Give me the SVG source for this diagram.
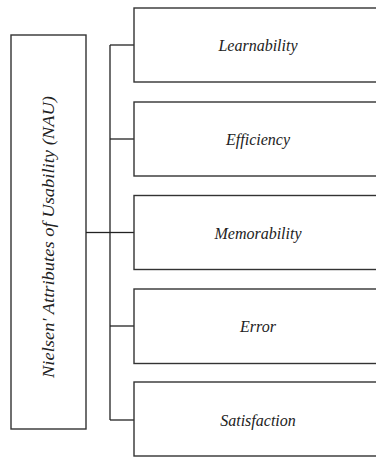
<svg xmlns="http://www.w3.org/2000/svg" width="376" height="457" viewBox="0 0 376 457">
<style>
.box{fill:#fff;stroke:#333;stroke-width:1.4}
.lbl{font-family:"Liberation Serif",serif;font-style:italic;font-size:16px;fill:#222;text-anchor:middle}
.con{fill:none;stroke:#222;stroke-width:1.3}
</style>
<rect width="376" height="457" fill="#fff"/>
<g id="root">
<rect class="box" x="11" y="35" width="75" height="394"/>
<text class="lbl" style="font-size:17.5px" transform="translate(54,237) rotate(-90)" textLength="282" lengthAdjust="spacingAndGlyphs">Nielsen' Attributes of Usability (NAU)</text>
</g>
<g id="connectors">
<line class="con" x1="86" y1="232.5" x2="110" y2="232.5" stroke-width="2"/>
<line class="con" x1="110" y1="45" x2="110" y2="420"/>
<line class="con" x1="110" y1="45" x2="134" y2="45"/>
<line class="con" x1="110" y1="139" x2="134" y2="139"/>
<line class="con" x1="110" y1="232.5" x2="134" y2="232.5"/>
<line class="con" x1="110" y1="326" x2="134" y2="326"/>
<line class="con" x1="110" y1="420" x2="134" y2="420"/>
</g>
<g id="n1"><rect class="box" x="134" y="8" width="260" height="74"/><text class="lbl" x="258" y="51">Learnability</text></g>
<g id="n2"><rect class="box" x="134" y="102" width="260" height="74"/><text class="lbl" x="258" y="145">Efficiency</text></g>
<g id="n3"><rect class="box" x="134" y="195.5" width="260" height="74"/><text class="lbl" x="258" y="238.5">Memorability</text></g>
<g id="n4"><rect class="box" x="134" y="289" width="260" height="74.5"/><text class="lbl" x="258" y="332">Error</text></g>
<g id="n5"><rect class="box" x="134" y="382" width="260" height="74"/><text class="lbl" x="258" y="426">Satisfaction</text></g>
</svg>
